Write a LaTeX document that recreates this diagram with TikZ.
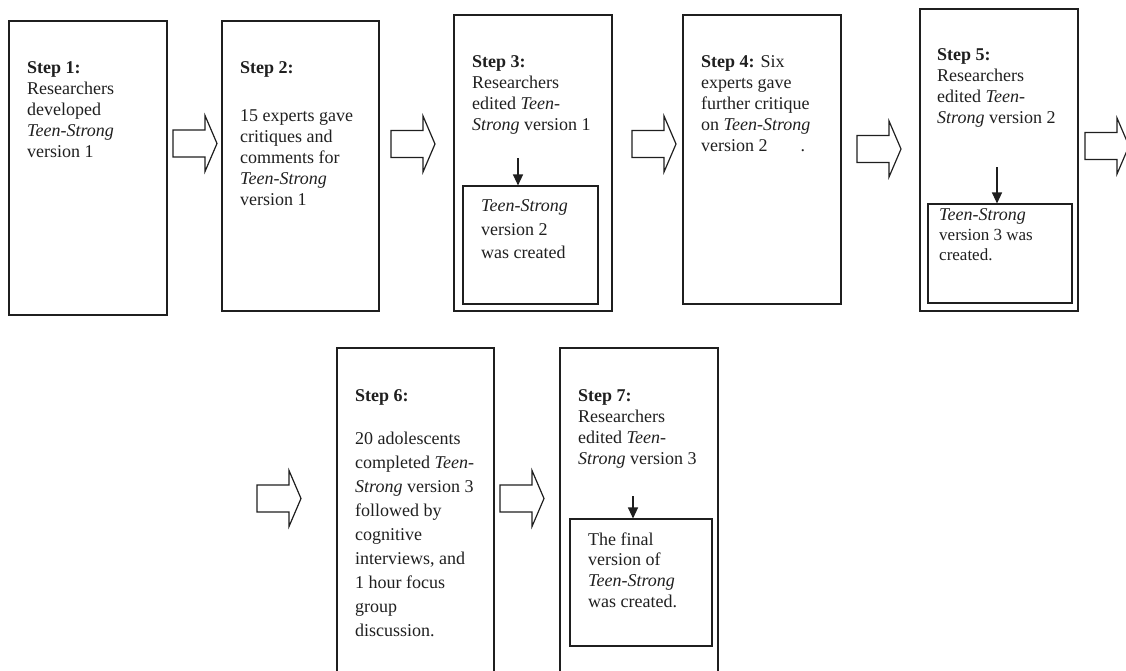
\documentclass[tikz,border=0pt]{standalone}
\usepackage{fontspec}
\setmainfont{Liberation Serif}
\usetikzlibrary{arrows.meta}
\definecolor{ink}{gray}{0.12}
\begin{document}
\begin{tikzpicture}[x=1pt,y=-1pt,
  box/.style={draw=ink, line width=1.1pt, inner sep=0pt, fill=none},
  txt/.style={anchor=north west, inner sep=0pt, align=left, text=ink, font=\fontsize{18}{21}\selectfont},
  smallarrow/.style={draw=ink, line width=1.2pt, -{Triangle[length=11pt,width=10pt]}},
  blockarrow/.pic={\draw[draw=ink, line width=1.2pt, line join=miter]
     (0,-13.5) -- (32,-13.5) -- (32,-28) -- (44,0) -- (32,28) -- (32,13.5) -- (0,13.5) -- cycle;}
]
\useasboundingbox (0,0) rectangle (1126,670);
\clip (0,0) rectangle (1126,670);

% main boxes
\node[box, minimum width=158pt, minimum height=294pt] (b1) at (88,168) {};
\node[box, minimum width=157pt, minimum height=290pt] (b2) at (300.5,166) {};
\node[box, minimum width=158pt, minimum height=296pt] (b3) at (533,163) {};
\node[box, minimum width=158pt, minimum height=289pt] (b4) at (762,159.5) {};
\node[box, minimum width=158pt, minimum height=302pt] (b5) at (999,160) {};
\node[box, minimum width=157pt, minimum height=352pt] (b6) at (415.5,524) {};
\node[box, minimum width=158pt, minimum height=352pt] (b7) at (639,524) {};

% inner boxes
\node[box, minimum width=135pt, minimum height=118pt] (n3) at (530.5,245) {};
\node[box, minimum width=144pt, minimum height=99pt] (n5) at (1000,253.5) {};
\node[box, minimum width=142pt, minimum height=127pt] (n7) at (641,582.5) {};

% block arrows
\pic at (173,143.5) {blockarrow};
\pic at (391,144) {blockarrow};
\pic at (632,144) {blockarrow};
\pic at (857,149) {blockarrow};
\pic at (1085,146) {blockarrow};
\pic at (257,498.5) {blockarrow};
\pic at (500,498.5) {blockarrow};

% small arrows
\coordinate (s3) at (518,158);
\coordinate (s5) at (997,167);
\coordinate (s7) at (633,496);
\draw[smallarrow] (s3) -- (s3 |- n3.north);
\draw[smallarrow] (s5) -- (s5 |- n5.north);
\draw[smallarrow] (s7) -- (s7 |- n7.north);

% texts
\node[txt] (t1) at (27,61.5) {\textbf{Step 1:}\\Researchers\\developed\\\textit{Teen-Strong}\\version 1};
\node[txt] (t2) at (240,61.5) {\textbf{Step 2:}\\[27pt]15 experts gave\\critiques and\\comments for\\\textit{Teen-Strong}\\version 1};
\node[txt] (t3) at (472,55.5) {\textbf{Step 3:}\\Researchers\\edited \textit{Teen-}\\\textit{Strong} version 1};
\node[txt, font=\fontsize{18}{23.5}\selectfont] (i3) at (481,199.5) {\textit{Teen-Strong}\\version 2\\was created};
\node[txt] (t4) at (701,55.5) {\textbf{Step 4:} Six\\experts gave\\further critique\\on \textit{Teen-Strong}\\version 2\hspace{33pt}.};
\node[txt] (t5) at (937,48.5) {\textbf{Step 5:}\\Researchers\\edited \textit{Teen-}\\\textit{Strong} version 2};
\node[txt, font=\fontsize{17}{20}\selectfont] (i5) at (939,208) {{\fontsize{18}{20}\selectfont\textit{Teen-Strong}}\\version 3 was\\created.};
\node[txt, font=\fontsize{18}{24}\selectfont] (t6) at (355,389.5) {\textbf{Step 6:}\\[19pt]20 adolescents\\completed \textit{Teen-}\\\textit{Strong} version 3\\followed by\\cognitive\\interviews, and\\1 hour focus\\group\\discussion.};
\node[txt] (t7) at (578,389.5) {\textbf{Step 7:}\\Researchers\\edited \textit{Teen-}\\\textit{Strong} version 3};
\node[txt, font=\fontsize{18}{20.6}\selectfont] (i7) at (588,532.5) {The final\\version of\\\textit{Teen-Strong}\\was created.};
\end{tikzpicture}
\end{document}
